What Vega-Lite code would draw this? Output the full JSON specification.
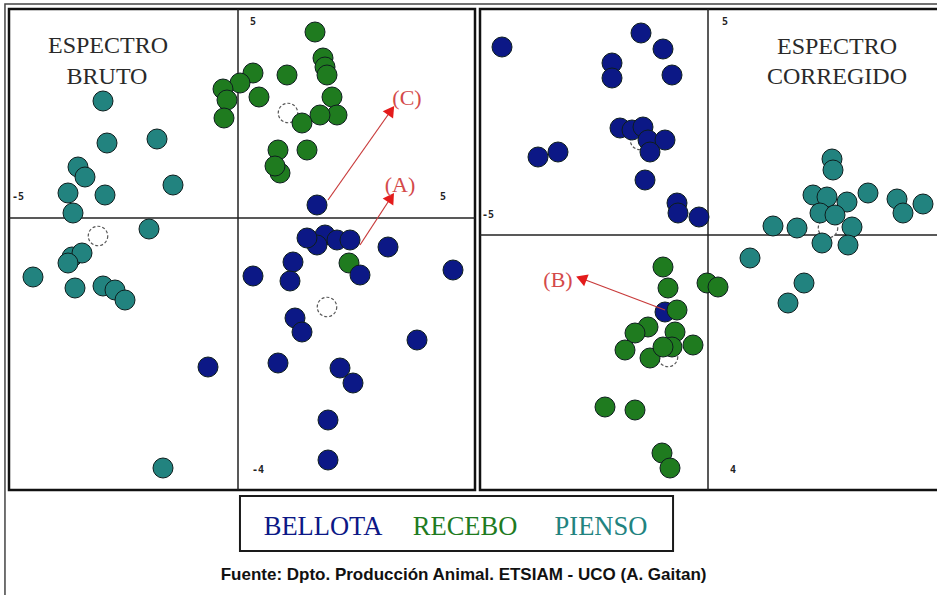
{
  "$schema": "https://vega.github.io/schema/vega-lite/v6.json",
  "width": 937,
  "height": 595,
  "autosize": {"type": "none"},
  "padding": 0,
  "background": "white",
  "config": {"view": {"stroke": null}},
  "datasets": {
    "puntos": [
      {"panel": 1, "grupo": "PIENSO", "x": -3.375, "y": 2.925},
      {"panel": 1, "grupo": "PIENSO", "x": -3.275, "y": 1.875},
      {"panel": 1, "grupo": "PIENSO", "x": -2.025, "y": 1.975},
      {"panel": 1, "grupo": "PIENSO", "x": -4.0, "y": 1.275},
      {"panel": 1, "grupo": "PIENSO", "x": -3.825, "y": 1.025},
      {"panel": 1, "grupo": "PIENSO", "x": -4.25, "y": 0.625},
      {"panel": 1, "grupo": "PIENSO", "x": -3.325, "y": 0.575},
      {"panel": 1, "grupo": "PIENSO", "x": -1.625, "y": 0.825},
      {"panel": 1, "grupo": "PIENSO", "x": -4.125, "y": 0.125},
      {"panel": 1, "grupo": "PIENSO", "x": -2.225, "y": -0.275},
      {"panel": 1, "grupo": "PIENSO", "x": -4.15, "y": -0.975},
      {"panel": 1, "grupo": "PIENSO", "x": -3.9, "y": -0.875},
      {"panel": 1, "grupo": "PIENSO", "x": -4.25, "y": -1.125},
      {"panel": 1, "grupo": "PIENSO", "x": -5.125, "y": -1.475},
      {"panel": 1, "grupo": "PIENSO", "x": -4.075, "y": -1.75},
      {"panel": 1, "grupo": "PIENSO", "x": -3.375, "y": -1.7},
      {"panel": 1, "grupo": "PIENSO", "x": -3.075, "y": -1.8},
      {"panel": 1, "grupo": "PIENSO", "x": -2.825, "y": -2.05},
      {"panel": 1, "grupo": "PIENSO", "x": -1.875, "y": -6.25},
      {"panel": 1, "grupo": "RECEBO", "x": 1.925, "y": 4.65},
      {"panel": 1, "grupo": "RECEBO", "x": 2.125, "y": 4.0},
      {"panel": 1, "grupo": "RECEBO", "x": 2.175, "y": 3.775},
      {"panel": 1, "grupo": "RECEBO", "x": 2.225, "y": 3.575},
      {"panel": 1, "grupo": "RECEBO", "x": 1.225, "y": 3.575},
      {"panel": 1, "grupo": "RECEBO", "x": 0.375, "y": 3.625},
      {"panel": 1, "grupo": "RECEBO", "x": 0.05, "y": 3.375},
      {"panel": 1, "grupo": "RECEBO", "x": -0.375, "y": 3.225},
      {"panel": 1, "grupo": "RECEBO", "x": -0.275, "y": 2.95},
      {"panel": 1, "grupo": "RECEBO", "x": 0.525, "y": 3.025},
      {"panel": 1, "grupo": "RECEBO", "x": -0.35, "y": 2.5},
      {"panel": 1, "grupo": "RECEBO", "x": 2.35, "y": 3.025},
      {"panel": 1, "grupo": "RECEBO", "x": 2.475, "y": 2.575},
      {"panel": 1, "grupo": "RECEBO", "x": 2.05, "y": 2.575},
      {"panel": 1, "grupo": "RECEBO", "x": 1.6, "y": 2.375},
      {"panel": 1, "grupo": "RECEBO", "x": 1.0, "y": 1.7},
      {"panel": 1, "grupo": "RECEBO", "x": 1.725, "y": 1.7},
      {"panel": 1, "grupo": "RECEBO", "x": 1.05, "y": 1.125},
      {"panel": 1, "grupo": "RECEBO", "x": 0.925, "y": 1.3},
      {"panel": 1, "grupo": "RECEBO", "x": 2.775, "y": -1.125},
      {"panel": 1, "grupo": "BELLOTA", "x": 1.975, "y": 0.325},
      {"panel": 1, "grupo": "BELLOTA", "x": 2.175, "y": -0.425},
      {"panel": 1, "grupo": "BELLOTA", "x": 1.975, "y": -0.675},
      {"panel": 1, "grupo": "BELLOTA", "x": 2.475, "y": -0.55},
      {"panel": 1, "grupo": "BELLOTA", "x": 2.8, "y": -0.55},
      {"panel": 1, "grupo": "BELLOTA", "x": 1.725, "y": -0.5},
      {"panel": 1, "grupo": "BELLOTA", "x": 3.75, "y": -0.725},
      {"panel": 1, "grupo": "BELLOTA", "x": 1.375, "y": -1.1},
      {"panel": 1, "grupo": "BELLOTA", "x": 0.375, "y": -1.45},
      {"panel": 1, "grupo": "BELLOTA", "x": 1.3, "y": -1.575},
      {"panel": 1, "grupo": "BELLOTA", "x": 3.05, "y": -1.425},
      {"panel": 1, "grupo": "BELLOTA", "x": 5.375, "y": -1.3},
      {"panel": 1, "grupo": "BELLOTA", "x": 1.425, "y": -2.5},
      {"panel": 1, "grupo": "BELLOTA", "x": 1.6, "y": -2.85},
      {"panel": 1, "grupo": "BELLOTA", "x": 4.475, "y": -3.05},
      {"panel": 1, "grupo": "BELLOTA", "x": -0.75, "y": -3.725},
      {"panel": 1, "grupo": "BELLOTA", "x": 1.0, "y": -3.625},
      {"panel": 1, "grupo": "BELLOTA", "x": 2.55, "y": -3.75},
      {"panel": 1, "grupo": "BELLOTA", "x": 2.875, "y": -4.125},
      {"panel": 1, "grupo": "BELLOTA", "x": 2.25, "y": -5.05},
      {"panel": 1, "grupo": "BELLOTA", "x": 2.25, "y": -6.05},
      {"panel": 2, "grupo": "BELLOTA", "x": -5.15, "y": 4.7},
      {"panel": 2, "grupo": "BELLOTA", "x": -1.675, "y": 5.05},
      {"panel": 2, "grupo": "BELLOTA", "x": -1.125, "y": 4.65},
      {"panel": 2, "grupo": "BELLOTA", "x": -2.4, "y": 4.3},
      {"panel": 2, "grupo": "BELLOTA", "x": -2.4, "y": 3.925},
      {"panel": 2, "grupo": "BELLOTA", "x": -0.9, "y": 4.0},
      {"panel": 2, "grupo": "BELLOTA", "x": -2.2, "y": 2.675},
      {"panel": 2, "grupo": "BELLOTA", "x": -1.9, "y": 2.625},
      {"panel": 2, "grupo": "BELLOTA", "x": -1.625, "y": 2.7},
      {"panel": 2, "grupo": "BELLOTA", "x": -1.5, "y": 2.375},
      {"panel": 2, "grupo": "BELLOTA", "x": -1.075, "y": 2.375},
      {"panel": 2, "grupo": "BELLOTA", "x": -1.45, "y": 2.075},
      {"panel": 2, "grupo": "BELLOTA", "x": -4.25, "y": 1.95},
      {"panel": 2, "grupo": "BELLOTA", "x": -3.75, "y": 2.075},
      {"panel": 2, "grupo": "BELLOTA", "x": -1.575, "y": 1.375},
      {"panel": 2, "grupo": "BELLOTA", "x": -0.775, "y": 0.8},
      {"panel": 2, "grupo": "BELLOTA", "x": -0.75, "y": 0.55},
      {"panel": 2, "grupo": "BELLOTA", "x": -0.225, "y": 0.45},
      {"panel": 2, "grupo": "BELLOTA", "x": -1.075, "y": -1.925},
      {"panel": 2, "grupo": "PIENSO", "x": 3.1, "y": 1.9},
      {"panel": 2, "grupo": "PIENSO", "x": 3.125, "y": 1.625},
      {"panel": 2, "grupo": "PIENSO", "x": 2.625, "y": 1.0},
      {"panel": 2, "grupo": "PIENSO", "x": 2.975, "y": 0.95},
      {"panel": 2, "grupo": "PIENSO", "x": 3.475, "y": 0.825},
      {"panel": 2, "grupo": "PIENSO", "x": 4.0, "y": 1.05},
      {"panel": 2, "grupo": "PIENSO", "x": 4.725, "y": 0.9},
      {"panel": 2, "grupo": "PIENSO", "x": 4.875, "y": 0.55},
      {"panel": 2, "grupo": "PIENSO", "x": 5.375, "y": 0.775},
      {"panel": 2, "grupo": "PIENSO", "x": 2.8, "y": 0.55},
      {"panel": 2, "grupo": "PIENSO", "x": 3.175, "y": 0.5},
      {"panel": 2, "grupo": "PIENSO", "x": 3.6, "y": 0.2},
      {"panel": 2, "grupo": "PIENSO", "x": 1.625, "y": 0.225},
      {"panel": 2, "grupo": "PIENSO", "x": 2.225, "y": 0.175},
      {"panel": 2, "grupo": "PIENSO", "x": 2.85, "y": -0.2},
      {"panel": 2, "grupo": "PIENSO", "x": 3.5, "y": -0.25},
      {"panel": 2, "grupo": "PIENSO", "x": 1.05, "y": -0.575},
      {"panel": 2, "grupo": "PIENSO", "x": 2.4, "y": -1.2},
      {"panel": 2, "grupo": "PIENSO", "x": 2.0, "y": -1.7},
      {"panel": 2, "grupo": "RECEBO", "x": -1.125, "y": -0.8},
      {"panel": 2, "grupo": "RECEBO", "x": -1.0, "y": -1.325},
      {"panel": 2, "grupo": "RECEBO", "x": -0.775, "y": -1.875},
      {"panel": 2, "grupo": "RECEBO", "x": -0.025, "y": -1.2},
      {"panel": 2, "grupo": "RECEBO", "x": 0.25, "y": -1.3},
      {"panel": 2, "grupo": "RECEBO", "x": -1.5, "y": -2.3},
      {"panel": 2, "grupo": "RECEBO", "x": -1.825, "y": -2.45},
      {"panel": 2, "grupo": "RECEBO", "x": -0.825, "y": -2.425},
      {"panel": 2, "grupo": "RECEBO", "x": -2.075, "y": -2.875},
      {"panel": 2, "grupo": "RECEBO", "x": -1.45, "y": -3.075},
      {"panel": 2, "grupo": "RECEBO", "x": -0.9, "y": -2.8},
      {"panel": 2, "grupo": "RECEBO", "x": -0.375, "y": -2.75},
      {"panel": 2, "grupo": "RECEBO", "x": -1.125, "y": -2.8},
      {"panel": 2, "grupo": "RECEBO", "x": -2.575, "y": -4.3},
      {"panel": 2, "grupo": "RECEBO", "x": -1.825, "y": -4.375},
      {"panel": 2, "grupo": "RECEBO", "x": -1.15, "y": -5.45},
      {"panel": 2, "grupo": "RECEBO", "x": -0.95, "y": -5.825}
    ],
    "centroides": [
      {"panel": 1, "x": -3.5, "y": -0.45},
      {"panel": 1, "x": 1.25, "y": 2.625},
      {"panel": 1, "x": 2.225, "y": -2.225},
      {"panel": 2, "x": -1.0, "y": -3.05},
      {"panel": 2, "x": 3.0, "y": 0.175},
      {"panel": 2, "x": -1.7, "y": 2.375}
    ],
    "flechas": [
      {"panel": 1, "etiqueta": "(C)", "x": 2.25, "y": 0.45, "x2": 3.8, "y2": 2.65, "rumbo": 35},
      {"panel": 1, "etiqueta": "(A)", "x": 3.05, "y": -0.675, "x2": 3.8, "y2": 0.475, "rumbo": 33},
      {"panel": 2, "etiqueta": "(B)", "x": -1.075, "y": -1.875, "x2": -3.125, "y2": -1.1, "rumbo": 291}
    ],
    "marcos": [
      {"panel": 1, "x": -5.725, "y": 5.225, "x2": 5.925, "y2": -6.8},
      {"panel": 2, "x": -5.7, "y": 5.65, "x2": 5.8, "y2": -6.375}
    ],
    "ejes": [
      {"panel": 1, "x": 0, "y": 5.225, "x2": 0, "y2": -6.8},
      {"panel": 1, "x": -5.725, "y": 0, "x2": 5.925, "y2": 0},
      {"panel": 2, "x": 0, "y": 5.65, "x2": 0, "y2": -6.375},
      {"panel": 2, "x": -5.7, "y": 0, "x2": 5.8, "y2": 0}
    ],
    "textos": [
      {"panel": 1, "clase": "titulo", "texto": "ESPECTRO", "x": -3.25, "y": 4.3},
      {"panel": 1, "clase": "titulo", "texto": "BRUTO", "x": -3.275, "y": 3.525},
      {"panel": 1, "clase": "eje", "texto": "5", "x": 0.375, "y": 4.9},
      {"panel": 1, "clase": "eje", "texto": "-5", "x": -5.5, "y": 0.525},
      {"panel": 1, "clase": "eje", "texto": "5", "x": 5.125, "y": 0.525},
      {"panel": 1, "clase": "eje", "texto": "-4", "x": 0.5, "y": -6.3},
      {"panel": 1, "clase": "flecha", "texto": "(C)", "x": 4.225, "y": 3.0},
      {"panel": 1, "clase": "flecha", "texto": "(A)", "x": 4.05, "y": 0.825},
      {"panel": 2, "clase": "titulo", "texto": "ESPECTRO", "x": 3.225, "y": 4.7},
      {"panel": 2, "clase": "titulo", "texto": "CORREGIDO", "x": 3.225, "y": 3.95},
      {"panel": 2, "clase": "eje", "texto": "5", "x": 0.425, "y": 5.325},
      {"panel": 2, "clase": "eje", "texto": "-5", "x": -5.5, "y": 0.5},
      {"panel": 2, "clase": "eje", "texto": "4", "x": 0.625, "y": -5.875},
      {"panel": 2, "clase": "flecha", "texto": "(B)", "x": -3.75, "y": -1.125}
    ],
    "pie_marcos": [
      {"clase": "exterior", "x": 0.0053, "y": 0.0067, "x2": 1.01, "y2": 1.01},
      {"clase": "leyenda", "x": 0.2561, "y": 0.8336, "x2": 0.7183, "y2": 0.9261}
    ],
    "pie_leyenda": [
      {"grupo": "BELLOTA", "x": 0.3447, "y": 0.8992},
      {"grupo": "RECEBO", "x": 0.4963, "y": 0.8992},
      {"grupo": "PIENSO", "x": 0.6414, "y": 0.8992}
    ],
    "pie_fuente": [
      {"texto": "Fuente: Dpto. Producción Animal. ETSIAM - UCO (A. Gaitan)", "x": 0.4947, "y": 0.9748}
    ]
  },
  "layer": [
    {
      "encoding": {
        "x": {"field": "x", "type": "quantitative", "axis": null, "scale": {"domain": [0, 1], "nice": false, "zero": false}},
        "y": {"field": "y", "type": "quantitative", "axis": null, "scale": {"domain": [0, 1], "nice": false, "zero": false, "reverse": true}}
      },
      "layer": [
        {
          "data": {"name": "pie_marcos"},
          "transform": [{"filter": "datum.clase == 'exterior'"}],
          "mark": {"type": "rect", "fill": "transparent", "stroke": "#444", "strokeWidth": 1.5},
          "encoding": {"x2": {"field": "x2"}, "y2": {"field": "y2"}}
        },
        {
          "data": {"name": "pie_marcos"},
          "transform": [{"filter": "datum.clase == 'leyenda'"}],
          "mark": {"type": "rect", "fill": "white", "stroke": "#1a1a1a", "strokeWidth": 2},
          "encoding": {"x2": {"field": "x2"}, "y2": {"field": "y2"}}
        },
        {
          "data": {"name": "pie_leyenda"},
          "mark": {"type": "text", "font": "Liberation Serif", "fontSize": 26.5, "align": "center", "baseline": "alphabetic"},
          "encoding": {
            "text": {"field": "grupo"},
            "color": {"field": "grupo", "type": "nominal", "legend": null, "scale": {"domain": ["BELLOTA", "RECEBO", "PIENSO"], "range": ["#0c1886", "#1f7b1f", "#22837f"]}}
          }
        },
        {
          "data": {"name": "pie_fuente"},
          "mark": {"type": "text", "font": "Liberation Sans", "fontWeight": "bold", "fontSize": 17, "align": "center", "baseline": "alphabetic", "color": "#111"},
          "encoding": {"text": {"field": "texto"}}
        }
      ]
    },
    {
      "encoding": {
        "x": {"field": "x", "type": "quantitative", "axis": null, "scale": {"domain": [-5.95, 17.475], "nice": false, "zero": false}},
        "y": {"field": "y", "type": "quantitative", "axis": null, "scale": {"domain": [-9.425, 5.45], "nice": false, "zero": false}}
      },
      "layer": [
        {
          "data": {"name": "marcos"},
          "transform": [{"filter": "datum.panel == 1"}],
          "mark": {"type": "rect", "fill": "white", "stroke": "#111", "strokeWidth": 2.5},
          "encoding": {"x2": {"field": "x2"}, "y2": {"field": "y2"}}
        },
        {
          "data": {"name": "ejes"},
          "transform": [{"filter": "datum.panel == 1"}],
          "mark": {"type": "rule", "color": "#222", "strokeWidth": 1.5},
          "encoding": {"x2": {"field": "x2"}, "y2": {"field": "y2"}}
        },
        {
          "data": {"name": "textos"},
          "transform": [{"filter": "datum.panel == 1 && datum.clase == 'titulo'"}],
          "mark": {"type": "text", "font": "Liberation Serif", "fontSize": 24, "align": "center", "baseline": "middle", "color": "#2a2a2a"},
          "encoding": {"text": {"field": "texto"}}
        },
        {
          "data": {"name": "textos"},
          "transform": [{"filter": "datum.panel == 1 && datum.clase == 'eje'"}],
          "mark": {"type": "text", "font": "DejaVu Sans Mono", "fontWeight": "bold", "fontSize": 10, "align": "center", "baseline": "middle", "color": "#222"},
          "encoding": {"text": {"field": "texto"}}
        },
        {
          "data": {"name": "centroides"},
          "transform": [{"filter": "datum.panel == 1"}],
          "mark": {"type": "point", "shape": "circle", "filled": true, "fill": "white", "stroke": "#555", "strokeWidth": 1.2, "strokeDash": [3, 2], "size": 380, "opacity": 1},
          "encoding": {}
        },
        {
          "data": {"name": "puntos"},
          "transform": [{"filter": "datum.panel == 1"}],
          "mark": {"type": "circle", "size": 400, "opacity": 1, "stroke": "#0e1e1e", "strokeWidth": 1},
          "encoding": {
            "color": {"field": "grupo", "type": "nominal", "legend": null, "scale": {"domain": ["BELLOTA", "RECEBO", "PIENSO"], "range": ["#0c1886", "#1f7b1f", "#22837f"]}}
          }
        },
        {
          "data": {"name": "flechas"},
          "transform": [{"filter": "datum.panel == 1"}],
          "mark": {"type": "rule", "color": "#c83a3a", "strokeWidth": 1.2},
          "encoding": {"x2": {"field": "x2"}, "y2": {"field": "y2"}}
        },
        {
          "data": {"name": "flechas"},
          "transform": [{"filter": "datum.panel == 1"}],
          "mark": {"type": "point", "shape": "triangle", "filled": true, "color": "#e41b1b", "size": 160, "opacity": 1},
          "encoding": {"x": {"field": "x2", "type": "quantitative"}, "y": {"field": "y2", "type": "quantitative"}, "angle": {"field": "rumbo", "type": "quantitative", "scale": null}}
        },
        {
          "data": {"name": "textos"},
          "transform": [{"filter": "datum.panel == 1 && datum.clase == 'flecha'"}],
          "mark": {"type": "text", "font": "Liberation Serif", "fontSize": 22, "align": "center", "baseline": "middle", "color": "#d44a4a"},
          "encoding": {"text": {"field": "texto"}}
        }
      ]
    },
    {
      "encoding": {
        "x": {"field": "x", "type": "quantitative", "axis": null, "scale": {"domain": [-17.7, 5.725], "nice": false, "zero": false}},
        "y": {"field": "y", "type": "quantitative", "axis": null, "scale": {"domain": [-9.0, 5.875], "nice": false, "zero": false}}
      },
      "layer": [
        {
          "data": {"name": "marcos"},
          "transform": [{"filter": "datum.panel == 2"}],
          "mark": {"type": "rect", "fill": "white", "stroke": "#111", "strokeWidth": 2.5},
          "encoding": {"x2": {"field": "x2"}, "y2": {"field": "y2"}}
        },
        {
          "data": {"name": "ejes"},
          "transform": [{"filter": "datum.panel == 2"}],
          "mark": {"type": "rule", "color": "#222", "strokeWidth": 1.5},
          "encoding": {"x2": {"field": "x2"}, "y2": {"field": "y2"}}
        },
        {
          "data": {"name": "textos"},
          "transform": [{"filter": "datum.panel == 2 && datum.clase == 'titulo'"}],
          "mark": {"type": "text", "font": "Liberation Serif", "fontSize": 24, "align": "center", "baseline": "middle", "color": "#2a2a2a"},
          "encoding": {"text": {"field": "texto"}}
        },
        {
          "data": {"name": "textos"},
          "transform": [{"filter": "datum.panel == 2 && datum.clase == 'eje'"}],
          "mark": {"type": "text", "font": "DejaVu Sans Mono", "fontWeight": "bold", "fontSize": 10, "align": "center", "baseline": "middle", "color": "#222"},
          "encoding": {"text": {"field": "texto"}}
        },
        {
          "data": {"name": "centroides"},
          "transform": [{"filter": "datum.panel == 2"}],
          "mark": {"type": "point", "shape": "circle", "filled": true, "fill": "white", "stroke": "#555", "strokeWidth": 1.2, "strokeDash": [3, 2], "size": 380, "opacity": 1},
          "encoding": {}
        },
        {
          "data": {"name": "puntos"},
          "transform": [{"filter": "datum.panel == 2"}],
          "mark": {"type": "circle", "size": 400, "opacity": 1, "stroke": "#0e1e1e", "strokeWidth": 1},
          "encoding": {
            "color": {"field": "grupo", "type": "nominal", "legend": null, "scale": {"domain": ["BELLOTA", "RECEBO", "PIENSO"], "range": ["#0c1886", "#1f7b1f", "#22837f"]}}
          }
        },
        {
          "data": {"name": "flechas"},
          "transform": [{"filter": "datum.panel == 2"}],
          "mark": {"type": "rule", "color": "#c83a3a", "strokeWidth": 1.2},
          "encoding": {"x2": {"field": "x2"}, "y2": {"field": "y2"}}
        },
        {
          "data": {"name": "flechas"},
          "transform": [{"filter": "datum.panel == 2"}],
          "mark": {"type": "point", "shape": "triangle", "filled": true, "color": "#e41b1b", "size": 160, "opacity": 1},
          "encoding": {"x": {"field": "x2", "type": "quantitative"}, "y": {"field": "y2", "type": "quantitative"}, "angle": {"field": "rumbo", "type": "quantitative", "scale": null}}
        },
        {
          "data": {"name": "textos"},
          "transform": [{"filter": "datum.panel == 2 && datum.clase == 'flecha'"}],
          "mark": {"type": "text", "font": "Liberation Serif", "fontSize": 22, "align": "center", "baseline": "middle", "color": "#d44a4a"},
          "encoding": {"text": {"field": "texto"}}
        }
      ]
    }
  ],
  "resolve": {"scale": {"x": "independent", "y": "independent", "color": "shared"}}
}
